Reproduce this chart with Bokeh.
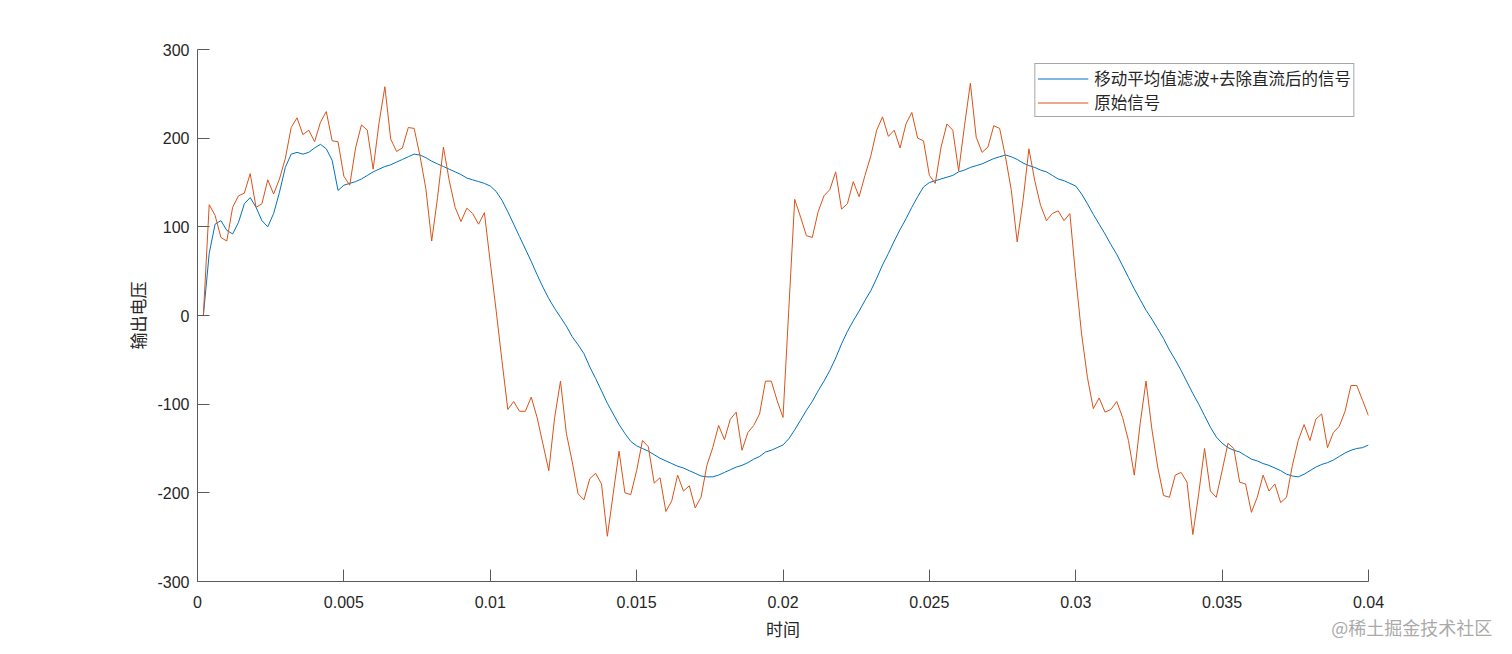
from bokeh.plotting import figure
from bokeh.models import FixedTicker, Label
from bokeh.embed import file_html
from bokeh.resources import INLINE

# ---------------- data ----------------
dt = 0.0002
n_samples = 200
t = [round((k + 1) * dt, 6) for k in range(n_samples)]

raw_signal = [
    0, 125, 113, 88, 84, 122, 135, 138, 160, 122,
    126, 153, 137, 154, 177, 212, 223, 204, 209, 196,
    218, 230, 197, 196, 157, 147, 189, 215, 209, 165,
    217, 258, 199, 185, 189, 212, 211, 180, 143, 84,
    133, 190, 152, 122, 106, 121, 115, 103, 116, 60,
    6, -51, -106, -97, -108, -108, -92, -115, -145, -175,
    -115, -74, -133, -165, -201, -208, -184, -178, -190, -249,
    -201, -153, -200, -202, -175, -141, -148, -189, -183, -221,
    -209, -180, -198, -192, -217, -205, -169, -149, -124, -140,
    -117, -109, -152, -132, -124, -111, -74, -74, -96, -115,
    8, 131, 111, 90, 88, 117, 135, 142, 162, 120,
    126, 151, 134, 158, 180, 209, 224, 202, 209, 189,
    216, 229, 200, 197, 158, 149, 190, 216, 209, 163,
    214, 262, 201, 184, 190, 214, 211, 179, 141, 83,
    130, 188, 152, 124, 107, 115, 118, 107, 115, 43,
    -21, -70, -105, -93, -109, -106, -97, -115, -141, -180,
    -122, -74, -128, -171, -203, -205, -180, -177, -188, -247,
    -201, -150, -198, -205, -175, -144, -150, -188, -190, -222,
    -205, -180, -198, -190, -211, -205, -169, -141, -123, -141,
    -117, -111, -149, -132, -125, -108, -79, -79, -96, -113,
]

filtered_signal = [
    0, 70, 103, 107, 96, 92, 105, 126, 133, 122,
    107, 100, 115, 139, 167, 182, 184, 182, 184, 189,
    193, 188, 175, 141, 147, 149, 151, 154, 158, 162,
    165, 168, 170, 173, 176, 179, 182, 181, 178, 174,
    171, 168, 165, 162, 159, 155, 153, 151, 149, 146,
    140, 130, 117, 103, 89, 75, 61, 46, 32, 19,
    8, -2, -12, -24, -33, -43, -58, -71, -85, -99,
    -111, -123, -133, -142, -147, -150, -153, -157, -161, -164,
    -167, -170, -172, -175, -178, -181, -182, -182, -180, -177,
    -174, -171, -169, -166, -162, -159, -154, -152, -149, -146,
    -139, -129, -118, -107, -97, -85, -74, -62, -48, -32,
    -18, -6, 5, 17, 28, 42, 57, 70, 84, 97,
    109, 122, 134, 145, 150, 152, 154, 156, 158, 162,
    164, 167, 169, 171, 174, 177, 179, 181, 179, 176,
    172, 169, 167, 164, 162, 158, 154, 152, 149, 146,
    137, 126, 114, 103, 92, 80, 69, 56, 43, 30,
    18, 6, -4, -15, -26, -39, -50, -62, -75, -88,
    -100, -113, -126, -137, -144, -149, -152, -154, -158, -162,
    -164, -167, -169, -172, -175, -179, -181, -182, -179, -175,
    -171, -168, -166, -163, -159, -155, -152, -150, -149, -146,
]

x_ticks = [0, 0.005, 0.01, 0.015, 0.02, 0.025, 0.03, 0.035, 0.04]
x_tick_labels = ["0", "0.005", "0.01", "0.015", "0.02", "0.025", "0.03", "0.035", "0.04"]
y_ticks = [-300, -200, -100, 0, 100, 200, 300]
y_tick_labels = ["-300", "-200", "-100", "0", "100", "200", "300"]

series_names = ["移动平均值滤波+去除直流后的信号", "原始信号"]
x_label = "时间"
y_label = "输出电压"
watermark = "@稀土掘金技术社区"

# ---------------- style ----------------
BLUE = "#0072BD"
ORANGE = "#D95319"
AXIS = "#5a5a5a"
TEXT = "#262626"
CJK = "Noto Sans CJK SC"
NUM = "Liberation Sans"

p = figure(width=1504, height=646, x_range=(0, 0.04), y_range=(-300, 300),
           output_backend="svg", toolbar_location=None)
p.min_border_left = 197
p.min_border_right = 136
p.min_border_top = 49
p.min_border_bottom = 65
p.outline_line_color = None
p.xgrid.visible = False
p.ygrid.visible = False
p.background_fill_color = "white"
p.border_fill_color = "white"

p.line(t, filtered_signal, line_color=BLUE, line_width=1.0, legend_label=series_names[0])
p.line(t, raw_signal, line_color=ORANGE, line_width=1.0, legend_label=series_names[1])

for ax, ticks, labels in ((p.xaxis[0], x_ticks, x_tick_labels), (p.yaxis[0], y_ticks, y_tick_labels)):
    ax.ticker = FixedTicker(ticks=ticks)
    ax.major_label_overrides = {tk: lb for tk, lb in zip(ticks, labels)}
    ax.minor_tick_line_color = None
    ax.major_tick_in = 12
    ax.major_tick_out = 0
    ax.axis_line_color = AXIS
    ax.major_tick_line_color = AXIS
    ax.major_label_text_font = NUM
    ax.major_label_text_font_size = "16px"
    ax.major_label_text_color = TEXT
    ax.axis_label_text_font = CJK
    ax.axis_label_text_font_size = "17px"
    ax.axis_label_text_font_style = "normal"
    ax.axis_label_text_color = TEXT

p.xaxis.axis_label = x_label
p.yaxis.axis_label = y_label
p.xaxis.major_label_standoff = 14
p.yaxis.major_label_standoff = 8
p.xaxis.axis_label_standoff = 5
p.yaxis.axis_label_standoff = 4

lg = p.legend[0]
lg.location = "top_right"
lg.margin = 14
lg.padding = 2
lg.spacing = 0
lg.glyph_width = 51
lg.glyph_height = 21
lg.label_standoff = 6
lg.label_height = 21
lg.label_text_font = CJK
lg.label_text_font_size = "16.5px"
lg.label_text_line_height = 0.85
lg.label_text_color = TEXT
lg.border_line_color = "#4d4d4d"
lg.border_line_width = 1
lg.background_fill_color = "white"
lg.background_fill_alpha = 1.0

wm = Label(x=0.04423, y=-351, text=watermark, text_align="right", text_baseline="middle",
           text_font=CJK, text_font_size="18px", text_color="#aaaaaa")
p.add_layout(wm, "above")

open("out.html", "w").write(file_html(p, INLINE))
